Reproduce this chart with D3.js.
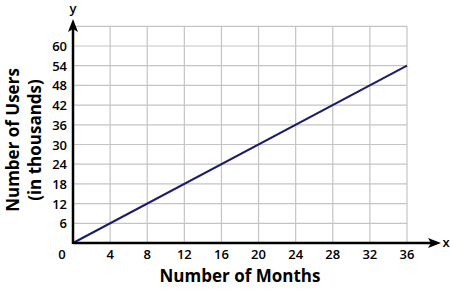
<!DOCTYPE html>
<html>
<head>
<meta charset="utf-8">
<script src="https://cdn.jsdelivr.net/npm/d3@7"></script>
<style>
  body { margin: 0; background: #fff; }
  text { font-family: "Open Sans", sans-serif; }
</style>
</head>
<body>
<div id="chart"></div>
<script>
// months on x, users (thousands) on y
const months = [0, 36];
const users = [0, 54];
const xTicks = [4, 8, 12, 16, 20, 24, 28, 32, 36];
const yTicks = [6, 12, 18, 24, 30, 36, 42, 48, 54, 60];
const yGrid = [6, 12, 18, 24, 30, 36, 42, 48, 54, 60, 66];

const width = 450;
const height = 290;

const x = d3.scaleLinear().domain([0, 36]).range([73, 407]);
const y = d3.scaleLinear().domain([0, 60]).range([243, 46]);

const svg = d3.select('#chart').append('svg')
  .attr('width', width)
  .attr('height', height);

// grid
svg.append('g').selectAll('line').data(xTicks).join('line')
  .attr('x1', d => x(d)).attr('x2', d => x(d))
  .attr('y1', y(66)).attr('y2', y(0))
  .attr('stroke', '#c4c4c4').attr('stroke-width', 1.2);

svg.append('g').selectAll('line').data(yGrid).join('line')
  .attr('x1', x(0)).attr('x2', x(36))
  .attr('y1', d => y(d)).attr('y2', d => y(d))
  .attr('stroke', '#c4c4c4').attr('stroke-width', 1.2);

// data line
const line = d3.line().x(d => x(d[0])).y(d => y(d[1]));
svg.append('path')
  .datum(months.map((m, i) => [m, users[i]]))
  .attr('d', line)
  .attr('fill', 'none')
  .attr('stroke', '#1c1c6b')
  .attr('stroke-width', 2);

// axes with arrows
svg.append('line')
  .attr('x1', x(0)).attr('x2', 432)
  .attr('y1', y(0)).attr('y2', y(0))
  .attr('stroke', '#000').attr('stroke-width', 2.5);
svg.append('path')
  .attr('d', `M441,${y(0)} L428,${y(0) - 5} L431,${y(0)} L428,${y(0) + 5} Z`)
  .attr('fill', '#000');

svg.append('line')
  .attr('x1', x(0)).attr('x2', x(0))
  .attr('y1', y(0) + 1).attr('y2', 28)
  .attr('stroke', '#000').attr('stroke-width', 2.5);
svg.append('path')
  .attr('d', `M${x(0)},19 L${x(0) - 5},32 L${x(0)},29 L${x(0) + 5},32 Z`)
  .attr('fill', '#000');

svg.append('text')
  .attr('x', 446).attr('y', y(0) + 4)
  .attr('text-anchor', 'middle')
  .attr('font-size', 13).attr('font-weight', 600)
  .text('x');
svg.append('text')
  .attr('x', x(0)).attr('y', 13)
  .attr('text-anchor', 'middle')
  .attr('font-size', 13).attr('font-weight', 600)
  .text('y');

// tick labels
svg.append('g').selectAll('text').data(xTicks).join('text')
  .attr('x', d => x(d)).attr('y', y(0) + 16)
  .attr('text-anchor', 'middle')
  .attr('font-size', 13).attr('font-weight', 600)
  .text(d => d);

svg.append('g').selectAll('text').data(yTicks).join('text')
  .attr('x', 67).attr('y', d => y(d) + 5)
  .attr('text-anchor', 'end')
  .attr('font-size', 13).attr('font-weight', 600)
  .text(d => d);

svg.append('text')
  .attr('x', 62).attr('y', y(0) + 16)
  .attr('text-anchor', 'middle')
  .attr('font-size', 13).attr('font-weight', 600)
  .text('0');

// titles
svg.append('text')
  .attr('x', 240).attr('y', 282)
  .attr('text-anchor', 'middle')
  .attr('font-size', 17).attr('font-weight', 700)
  .text('Number of Months');

const yTitle = svg.append('text')
  .attr('transform', 'translate(0,140) rotate(-90)')
  .attr('text-anchor', 'middle')
  .attr('font-size', 17).attr('font-weight', 700);
yTitle.append('tspan').attr('x', 0).attr('y', 19).text('Number of Users');
yTitle.append('tspan').attr('x', 0).attr('y', 41).text('(in thousands)');
</script>
</body>
</html>
